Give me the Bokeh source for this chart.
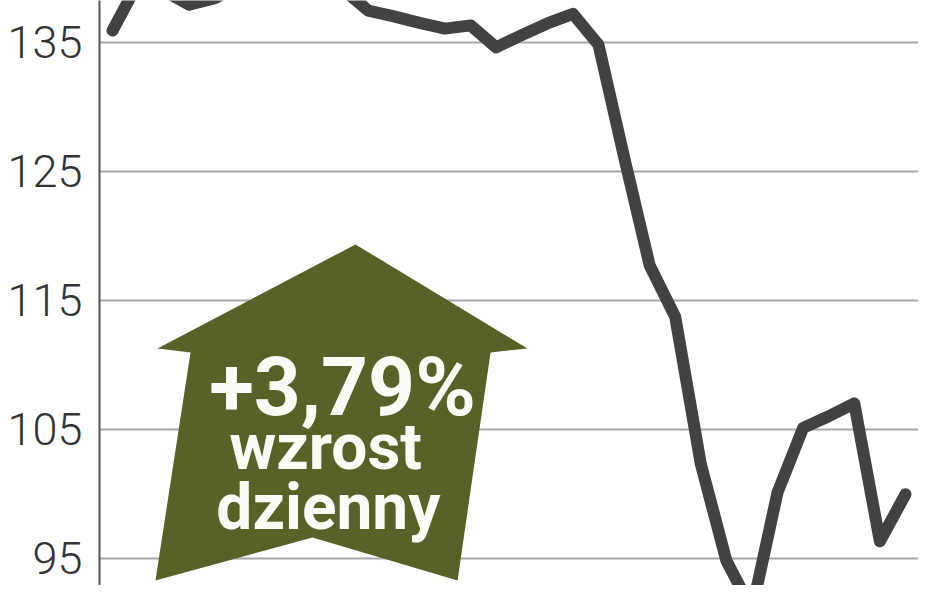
from bokeh.plotting import figure
from bokeh.models import FixedTicker, Range1d
from bokeh.core.properties import value
from bokeh.embed import file_html
from bokeh.resources import INLINE

# ---- data ----
days = list(range(32))
prices = [135.9, 139.6, 139.0, 137.9, 138.4, 139.5, 139.8, 139.3, 139.6, 139.1,
          137.45, 137.0, 136.5, 136.05, 136.3, 134.6, 135.55, 136.45, 137.2, 134.8,
          126.1, 117.7, 113.7, 102.3, 94.8, 91.0, 100.1, 105.1, 106.0, 107.0,
          96.3, 99.95]
y_ticks = [95, 105, 115, 125, 135]

badge_lines = ["+3,79%", "wzrost", "dzienny"]

# ---- decorative arrow (in data space) ----
arrow_x = [9.50, 16.22, 14.78, 13.49, 7.82, 1.68, 3.05, 1.76]
arrow_y = [119.32, 111.26, 110.95, 93.27, 96.60, 93.27, 110.95, 111.26]

p = figure(width=932, height=585, output_backend="svg", toolbar_location=None,
           x_axis_location=None,
           x_range=Range1d(-0.508, 31.51), y_range=Range1d(92.88, 138.23),
           min_border_left=99, min_border_right=14, min_border_top=0, min_border_bottom=0)
p.outline_line_color = None
p.background_fill_color = "white"
p.border_fill_color = "white"

p.xgrid.visible = False
p.ygrid.ticker = FixedTicker(ticks=y_ticks)
p.ygrid.grid_line_color = "#a8a8a8"
p.ygrid.grid_line_width = 2

ax = p.yaxis[0]
ax.ticker = FixedTicker(ticks=y_ticks)
ax.axis_line_color = "#555555"
ax.axis_line_width = 2
ax.major_tick_line_color = None
ax.minor_tick_line_color = None
ax.major_tick_out = 0
ax.major_tick_in = 0
ax.major_label_standoff = 17
ax.major_label_text_font = "Roboto Light, Roboto"
ax.major_label_text_font_size = "45px"
ax.major_label_text_color = "#333333"

# arrow badge
p.patch(arrow_x, arrow_y, fill_color="#5a6128", line_color=None)

# price line
p.line(days, prices, line_width=12, line_color="#424242", line_join="round", line_cap="round")

# badge text
p.text(x=[8.99], y=[108.23], text=[badge_lines[0]], text_font=value("Roboto"),
       text_font_style="bold", text_font_size="82px", text_color="#fbfbf5",
       text_align="center", text_baseline="alphabetic")
p.text(x=[8.33, 8.44], y=[103.58, 98.93], text=badge_lines[1:], text_font=value("Roboto"),
       text_font_style="bold", text_font_size="64px", text_color="#fbfbf5",
       text_align="center", text_baseline="alphabetic")

open("out.html", "w").write(file_html(p, INLINE))
